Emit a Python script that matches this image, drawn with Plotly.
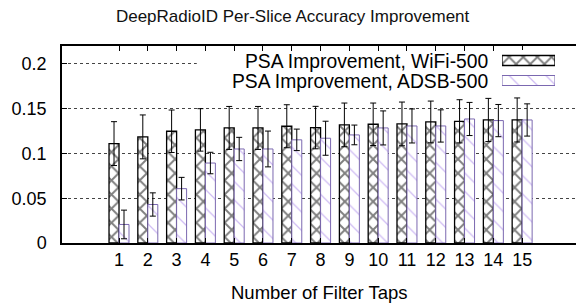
import plotly.graph_objects as go

taps = list(range(1, 16))
wifi = [0.111, 0.1185, 0.1248, 0.1263, 0.1285, 0.1285, 0.1304, 0.1289, 0.1319, 0.1326,
        0.1330, 0.1352, 0.1359, 0.1374, 0.1374]
wifi_err = [0.0245, 0.0245, 0.0237, 0.0237, 0.024, 0.024, 0.024, 0.0237, 0.0244, 0.0237,
            0.0244, 0.0233, 0.0241, 0.0241, 0.0246]
adsb = [0.0207, 0.043, 0.0607, 0.0893, 0.105, 0.105, 0.1152, 0.117, 0.1207, 0.1285,
        0.1307, 0.1307, 0.1385, 0.1367, 0.1374]
adsb_err = [0.016, 0.013, 0.0126, 0.012, 0.013, 0.020, 0.012, 0.019, 0.011, 0.019,
            0.019, 0.018, 0.0185, 0.018, 0.018]
series_names = ["PSA Improvement, WiFi-500", "PSA Improvement, ADSB-500"]
y_ticks = [0, 0.05, 0.1, 0.15, 0.2]
y_tick_labels = ["0", "0.05", "0.1", "0.15", "0.2"]

FONT = "Liberation Sans, Arial, Helvetica, sans-serif"
W, H = 576, 307
ML, MR, MT, MB = 62, 0, 46, 64
PW, PH = W - ML - MR, H - MT - MB

wifi_style = dict(color="white", line=dict(color="black", width=1.3),
                  pattern=dict(shape="x", fgcolor="black", bgcolor="white", size=10, solidity=0.35))
adsb_style = dict(color="white", line=dict(color="#7b68b0", width=1),
                  pattern=dict(shape="\\", fgcolor="#9f7ae8", bgcolor="white", size=13, solidity=0.1))
err_style = dict(type="data", thickness=1, width=3, color="black")

fig = go.Figure()
fig.add_trace(go.Bar(x=taps, y=wifi, name=series_names[0], marker=wifi_style,
                     error_y=dict(array=wifi_err, **err_style), showlegend=False))
fig.add_trace(go.Bar(x=taps, y=adsb, name=series_names[1], marker=adsb_style,
                     error_y=dict(array=adsb_err, **err_style), showlegend=False))

# legend swatches in an inset axis
fig.add_trace(go.Bar(x=[1], y=[1], orientation="h", width=0.5, marker=wifi_style,
                     xaxis="x2", yaxis="y2", showlegend=False, hoverinfo="skip"))
fig.add_trace(go.Bar(x=[1], y=[0], orientation="h", width=0.5, marker=adsb_style,
                     xaxis="x2", yaxis="y2", showlegend=False, hoverinfo="skip"))

def px_x(px):
    return (px - ML) / PW

def px_y(py):
    return (H - MB - py) / PH

fig.update_layout(
    width=W, height=H,
    margin=dict(l=ML, r=MR, t=MT, b=MB),
    paper_bgcolor="white", plot_bgcolor="white",
    font=dict(family=FONT, size=18, color="black"),
    barmode="group", bargap=0.306, bargroupgap=0,
    title=dict(text="DeepRadioID Per-Slice Accuracy Improvement", x=0.508, xanchor="center",
               xref="container", y=1 - 16 / H, yref="container", yanchor="middle",
               font=dict(family=FONT, size=17, color="#111")),
    xaxis=dict(range=[-0.98, 16.87], tickmode="array", tickvals=taps,
               ticktext=[str(t) for t in taps], ticks="inside", ticklen=5, tickcolor="black",
               showline=True, linecolor="black", linewidth=1.7, mirror="ticks",
               showgrid=False, zeroline=False, ticklabelstandoff=0,
               tickfont=dict(size=18)),
    yaxis=dict(range=[0, 0.22], tickmode="array", tickvals=y_ticks, ticktext=y_tick_labels,
               ticks="inside", ticklen=5, tickcolor="black",
               showline=True, linecolor="black", linewidth=1.5,
               showgrid=True, gridcolor="#444", griddash="dot", gridwidth=1,
               zeroline=False, ticklabelstandoff=10, tickfont=dict(size=18)),
    xaxis2=dict(domain=[px_x(502), px_x(555)], range=[0, 1], anchor="y2", visible=False,
                fixedrange=True),
    yaxis2=dict(domain=[px_y(91), px_y(50)], range=[-0.525, 1.525], anchor="x2",
                visible=False, fixedrange=True),
    shapes=[dict(type="rect", xref="x", yref="y", x0=3.7, x1=17, y0=0.18, y1=0.218,
                 fillcolor="white", line=dict(width=0), layer="between")],
    annotations=[
        dict(text=series_names[0], xref="paper", yref="paper", x=px_x(490), y=px_y(61),
             xanchor="right", yanchor="middle", showarrow=False, font=dict(size=19.3)),
        dict(text=series_names[1], xref="paper", yref="paper", x=px_x(490), y=px_y(81),
             xanchor="right", yanchor="middle", showarrow=False, font=dict(size=19.3)),
        dict(text="Number of Filter Taps", xref="paper", yref="paper", x=0.5, y=px_y(292),
             xanchor="center", yanchor="middle", showarrow=False, font=dict(size=18.5)),
    ],
)

fig.write_html("out.html", config={"displayModeBar": False},
               post_script="document.body.style.margin='0';document.body.style.overflow='hidden';")
